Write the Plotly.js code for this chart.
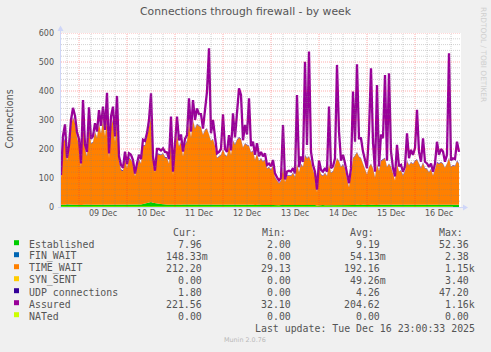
<!DOCTYPE html>
<html><head><meta charset="utf-8">
<script src="https://cdn.plot.ly/plotly-3.0.1.min.js"></script>
<style>html,body{margin:0;padding:0;background:#f0f0f0;overflow:hidden}</style>
</head><body>
<div id="chart" style="width:491px;height:352px"></div>
<script>
// ---- data (hourly from 08 Dec 15:00) ----
const startTime = Date.UTC(2025, 11, 8, 15);
const endTime = Date.UTC(2025, 11, 16, 23);

const established = [
  8,7,8,9,8,7,8,8,9,8, 7,8,8,9,8,8,7,8,9,8, 8,9,8,7,8,8,9,8,8,7, 7,8,7,8,8,7,8,7,8,8,
  9,10,12,14,16,17,15,13,12,11, 10,9,9,8,8,9,8,8,9,8, 8,9,9,8,10,9,8,9,10,9, 9,8,9,10,9,8,8,9,8,8,
  9,8,8,9,10,9,8,9,10,9, 8,9,8,8,9,8,8,7,8,8, 7,8,7,7,8,7,7,6,7,6, 7,6,7,7,6,7,7,6,7,7,
  7,8,7,7,8,7,6,7,5,6, 6,7,6,6,7,6,7,6,7,7, 7,6,7,6,5,6,7,7,8,7, 7,8,7,6,7,8,7,6,7,8,
  8,7,8,7,8,7,7,6,8,7, 7,8,8,7,8,8,7,8,8,7, 8,7,8,8,7,8,8,7,8,8, 8,8,7,8,8,7,8,8,8,8
];
const timeWait = [
  90,215,225,150,185,270,300,280,230,205, 130,290,190,165,280,210,215,250,230,280,
  245,290,235,300,160,270,290,215,290,150, 120,115,160,125,160,155,140,98,128,155,
  140,200,200,225,260,290,150,105,170,170, 168,175,162,160,140,220,102,185,240,200,
  215,165,205,218,280,230,290,260,275,270, 265,240,255,260,240,220,225,200,160,165,
  170,190,170,165,205,170,220,205,220,230, 225,195,210,205,200,180,185,155,175,150,
  160,148,155,125,128,120,135,95,85,75, 82,130,78,100,102,100,110,96,140,112,
  140,130,170,160,165,150,120,100,45,130, 105,100,110,100,140,110,115,135,160,150,
  130,140,125,90,62,105,160,170,180,165, 160,140,125,105,130,140,125,95,140,115,
  150,155,160,130,140,130,108,85,140,115, 118,100,115,150,135,145,140,150,155,140,
  125,145,125,122,112,122,100,122,145,140, 145,140,128,140,160,130,135,132,150,140
];
const assured = [
  110,245,285,170,212,300,342,315,258,235, 150,369,215,190,344,235,245,289,260,334,
  280,346,266,394,185,312,346,243,383,175, 145,135,191,148,185,180,162,115,150,180,
  165,232,228,255,300,392,174,125,200,200, 195,202,190,188,165,312,122,215,312,230,
  250,191,235,248,375,260,369,300,340,320, 320,270,334,398,547,254,300,230,185,190,
  200,320,200,190,248,195,323,240,317,409, 386,230,283,250,375,210,225,180,220,175,
  190,175,185,145,150,140,162,116,102,92, 100,283,95,122,125,122,134,116,386,137,
  174,156,501,214,536,190,145,122,60,160, 128,122,134,122,346,134,140,168,490,260,
  160,180,151,116,82,134,398,225,492,237, 237,191,160,134,260,478,225,122,421,140,
  250,237,455,160,461,191,134,105,214,140, 145,122,140,254,168,197,180,203,335,190,
  156,237,156,150,138,150,122,150,225,180, 200,191,156,180,530,160,168,165,225,190
];
// 4-hourly series
const finWait = [0,0.1,0,0,0.05,0,0,0.1,0.05,0, 0,0.05,0.1,0,0,0.05,0,0.1,0.05,0, 0,0.05,0,0.1,0.05,0,0,0.05,0.1,0, 0.05,0,0,0.1,0.05,0,0.05,0.1,0,0, 0.05,0.1,0,0.05,0,0.1,0.05,0,0.1,0.15];
const synSent = [0,0,0.05,0,0.1,0,0,0,0.05,0, 0.1,0,0,0.05,0,0,0.1,0,0,0.05, 0,0,0.1,0,0,0.05,0,0,0.1,0, 0,0.05,0,0,0.1,0,0,0.05,0,0, 0.1,0,0,0.05,0,0,0.1,0,0,0];
const udpConn = [1.5,2,2,2.5,2,1.5,2,3,2.5,2, 1.5,2,2,2.5,2,2,2.5,2,2,1.5, 2,2,2.5,2,1.5,1.5,2,1.5,1.5,2, 2,2,1.5,2,2,2,2,1.5,2,2, 2,2,1.5,2,2,2,1.5,2,1.5,1.8];
const nated = [0,0,0,0,0,0,0,0,0,0, 0,0,0,0,0,0,0,0,0,0, 0,0,0,0,0,0,0,0,0,0, 0,0,0,0,0,0,0,0,0,0, 0,0,0,0,0,0,0,0,0,0];

const seriesNames = ['Established','FIN_WAIT','TIME_WAIT','SYN_SENT','UDP connections','Assured','NATed'];
const seriesColors = ['#00CC00','#0066B3','#FF8000','#FFCC00','#330099','#990099','#CCFF00'];
const curVals = ['7.96','148.33m','212.20','0.00','1.80','221.56','0.00'];
const minVals = ['2.00','0.00','29.13','0.00','0.00','32.10','0.00'];
const avgVals = ['9.19','54.13m','192.16','49.26m','4.26','204.62','0.00'];
const maxVals = ['52.36','2.38','1.15k','3.40','47.20','1.16k','0.00'];
const colHeaders = ['Cur:','Min:','Avg:','Max:'];
const yTicks = [0,100,200,300,400,500,600];
const chartTitle = 'Connections through firewall - by week';
const yTitle = 'Connections';
const lastUpdate = 'Last update: Tue Dec 16 23:00:33 2025';
const footer = 'Munin 2.0.76';
const sideText = 'RRDTOOL / TOBI OETIKER';

// ---- build ----
const H = 3600e3;
const xs = established.map((_, i) => startTime + i * H);
const xc = udpConn.map((_, i) => startTime + i * 4 * H);

function area(x, y, c, first) {
  const t = {x: x, y: y, type: 'scatter', mode: 'lines', stackgroup: 's',
    fill: 'tonexty', fillcolor: c, line: {width: 0, color: c}, showlegend: false, hoverinfo: 'skip'};
  if (first) t.stackgaps = 'interpolate';
  return t;
}
const traces = [
  area(xs, established, seriesColors[0], true),
  area(xc, finWait, seriesColors[1]),
  area(xs, timeWait, seriesColors[2]),
  area(xc, synSent, seriesColors[3]),
  area(xc, udpConn, seriesColors[4]),
  {x: xs, y: assured, type: 'scatter', mode: 'lines', line: {color: seriesColors[5], width: 2.3}, showlegend: false, hoverinfo: 'skip'},
  {x: xc, y: nated, type: 'scatter', mode: 'lines', line: {color: seriesColors[6], width: 1}, showlegend: false, hoverinfo: 'skip'}
];

// pixel -> paper helpers (plot area 61..461 x 33..207)
const PL = 61, PR = 461, PT = 33, PB = 207;
const px = v => (v - PL) / (PR - PL);
const py = v => (PB - v) / (PB - PT);

const shapes = [];
const red = 'rgba(255,40,40,0.38)', gray = 'rgba(130,130,130,0.36)';
for (let t = Date.UTC(2025, 11, 8, 18); t <= endTime; t += 6 * H) {
  const isDay = new Date(t).getUTCHours() === 0;
  shapes.push({type: 'line', xref: 'x', yref: 'paper', x0: t, x1: t, y0: 0, y1: 1,
    line: {color: isDay ? red : gray, width: 1, dash: '1px,1px'}, layer: 'above'});
}
for (let v = 20; v <= 600; v += 20) {
  shapes.push({type: 'line', xref: 'paper', yref: 'y', x0: 0, x1: 1, y0: v, y1: v,
    line: {color: v % 100 === 0 ? red : gray, width: 1, dash: '1px,1px'}, layer: 'above'});
}
// axes + arrows
const axisCol = '#CFD6F8';
shapes.push({type: 'line', xref: 'paper', yref: 'paper', x0: px(60.5), x1: px(60.5), y0: py(208), y1: py(29), line: {color: axisCol, width: 1}, layer: 'above'});
shapes.push({type: 'line', xref: 'paper', yref: 'paper', x0: px(58), x1: px(464), y0: py(207.5), y1: py(207.5), line: {color: axisCol, width: 1}, layer: 'below'});
shapes.push({type: 'path', xref: 'paper', yref: 'paper', path: `M ${px(57.5)} ${py(31)} L ${px(60.5)} ${py(25.5)} L ${px(63.5)} ${py(31)} Z`, fillcolor: axisCol, line: {width: 0}, layer: 'above'});
shapes.push({type: 'path', xref: 'paper', yref: 'paper', path: `M ${px(463)} ${py(204.5)} L ${px(468)} ${py(207.5)} L ${px(463)} ${py(210.5)} Z`, fillcolor: axisCol, line: {width: 0}, layer: 'above'});

const annotations = [];
const mono = {family: 'DejaVu Sans Mono', size: 9.9, color: '#555'};
const CW = 5.96;
const colEdges = [204.3, 293.3, 381.7, 470.7];
const rowY0 = 244.2, rowDY = 12.0;
colHeaders.forEach((h, c) => annotations.push({xref: 'paper', yref: 'paper', x: px(colEdges[c] - CW + 0.3), y: py(rowY0 - rowDY), xanchor: 'right', yanchor: 'middle', text: h, showarrow: false, font: mono}));
const cols = [curVals, minVals, avgVals, maxVals];
seriesNames.forEach((n, i) => {
  const yc = rowY0 + i * rowDY;
  shapes.push({type: 'rect', xref: 'paper', yref: 'paper', x0: px(14), x1: px(19), y0: py(yc - 4), y1: py(yc + 1), fillcolor: seriesColors[i], line: {width: 0}, layer: 'above'});
  annotations.push({xref: 'paper', yref: 'paper', x: px(26.5), y: py(yc), xanchor: 'left', yanchor: 'middle', text: n, showarrow: false, font: mono});
  cols.forEach((arr, c) => {
    const s = arr[i];
    const suff = /[a-z]$/i.test(s);
    annotations.push({xref: 'paper', yref: 'paper', x: px(colEdges[c] + (suff ? CW : 0)), y: py(yc), xanchor: 'right', yanchor: 'middle', text: s, showarrow: false, font: mono});
  });
});
annotations.push({xref: 'paper', yref: 'paper', x: px(476.7), y: py(rowY0 + 7 * rowDY), xanchor: 'right', yanchor: 'middle', text: lastUpdate, showarrow: false, font: mono});
annotations.push({xref: 'paper', yref: 'paper', x: px(245), y: py(340), xanchor: 'center', yanchor: 'middle', text: footer, showarrow: false, font: {family: 'DejaVu Sans', size: 6.4, color: '#b8b8b8'}});
annotations.push({xref: 'paper', yref: 'paper', x: px(484), y: py(54), xanchor: 'center', yanchor: 'middle', text: sideText, textangle: 90, showarrow: false, font: {family: 'DejaVu Sans', size: 7.4, color: '#cfcfcf'}});
annotations.push({xref: 'paper', yref: 'paper', x: px(9.5), y: py(119), xanchor: 'center', yanchor: 'middle', text: yTitle, textangle: -90, showarrow: false, font: {family: 'DejaVu Sans', size: 9.6, color: '#555'}});

const layout = {
  width: 491, height: 352,
  margin: {l: PL, r: 491 - PR, t: PT, b: 352 - PB, pad: 0},
  paper_bgcolor: '#f0f0f0', plot_bgcolor: '#ffffff',
  title: {text: chartTitle, x: 245.5 / 491, xref: 'container', xanchor: 'center', y: 1 - 11.5 / 352, yref: 'container', yanchor: 'middle',
    font: {family: 'DejaVu Sans', size: 10.8, color: '#555'}},
  showlegend: false,
  xaxis: {type: 'date', range: [startTime, endTime], showgrid: false, zeroline: false, showline: false,
    tickmode: 'linear', tick0: Date.UTC(2025, 11, 9), dtick: 86400000, ticklabelmode: 'period', tickformat: '%d %b',
    ticks: '', tickfont: {family: 'DejaVu Sans', size: 8, color: '#555'}, fixedrange: true},
  yaxis: {range: [0, 600], tickmode: 'array', tickvals: yTicks, ticktext: yTicks.map(String), showgrid: false, zeroline: false, showline: false,
    ticks: '', ticklabelstandoff: 6, tickfont: {family: 'DejaVu Sans', size: 8, color: '#555'}, fixedrange: true},
  shapes: shapes, annotations: annotations
};
Plotly.newPlot('chart', traces, layout, {staticPlot: true, displayModeBar: false});
</script>
</body></html>
